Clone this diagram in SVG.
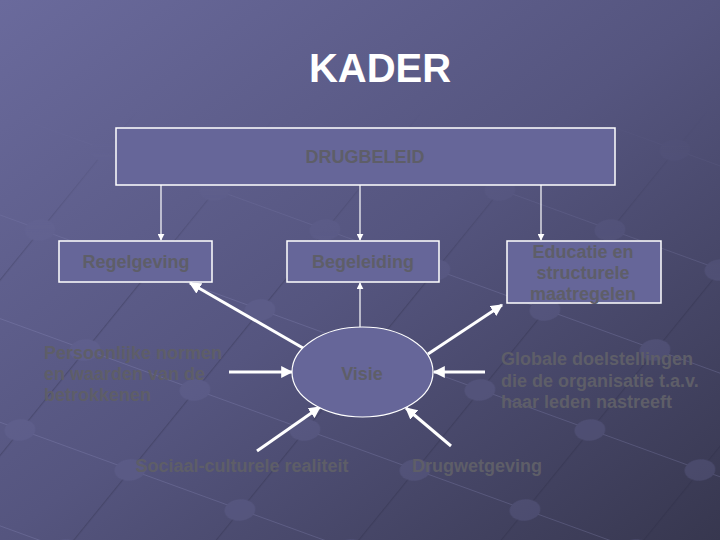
<svg xmlns="http://www.w3.org/2000/svg" width="720" height="540" viewBox="0 0 720 540">
<defs>
<linearGradient id="bg" x1="0" y1="0" x2="1" y2="1">
<stop offset="0" stop-color="#6a6a9c"/>
<stop offset="0.5" stop-color="#55557f"/>
<stop offset="1" stop-color="#37374f"/>
</linearGradient>
<pattern id="grid" width="100" height="100" patternUnits="userSpaceOnUse" patternTransform="matrix(0.65,-0.8,1.1,0.4,20,430)">
<path d="M0 0H100" stroke="#2c2c44" stroke-width="2" fill="none"/>
<path d="M0 0V100" stroke="#9a9acb" stroke-width="1.5" fill="none"/>
<circle cx="0" cy="0" r="12" fill="#6a6a9a"/>
<circle cx="100" cy="0" r="12" fill="#6a6a9a"/>
<circle cx="0" cy="100" r="12" fill="#6a6a9a"/>
<circle cx="100" cy="100" r="12" fill="#6a6a9a"/>
</pattern>
<linearGradient id="fade" x1="0" y1="0" x2="0" y2="1">
<stop offset="0.2" stop-color="#fff" stop-opacity="0"/>
<stop offset="0.55" stop-color="#fff" stop-opacity="1"/>
</linearGradient>
<mask id="m"><rect width="720" height="540" fill="url(#fade)"/></mask>
<marker id="ah" viewBox="0 0 10 10" refX="9" refY="5" markerWidth="7" markerHeight="7" orient="auto" markerUnits="userSpaceOnUse">
<path d="M0 0L10 5L0 10z" fill="#fff"/>
</marker>
<marker id="ah2" viewBox="0 0 10 10" refX="9" refY="5" markerWidth="4" markerHeight="4" orient="auto">
<path d="M0 0L10 5L0 10z" fill="#fff"/>
</marker>
</defs>
<style>
.box{fill:#666699;stroke:#fff;stroke-width:1.5}
.t{font-family:"Liberation Sans",Arial,sans-serif;font-weight:bold;font-size:18px;fill:#5e5e68}
.c{text-anchor:middle}
.thin{stroke:#fff;stroke-width:1.2;fill:none}
.thick{stroke:#fff;stroke-width:3;fill:none}
</style>
<rect width="720" height="540" fill="url(#bg)"/>
<rect width="720" height="540" fill="url(#grid)" opacity="0.3" mask="url(#m)"/>
<text x="380" y="82" font-family="Liberation Sans,Arial,sans-serif" font-weight="bold" font-size="40" fill="#fff" text-anchor="middle">KADER</text>

<g id="connectors">
<line class="thin" x1="161" y1="185" x2="161" y2="240" marker-end="url(#ah)"/>
<line class="thin" x1="360" y1="185" x2="360" y2="240" marker-end="url(#ah)"/>
<line class="thin" x1="541" y1="185" x2="541" y2="240" marker-end="url(#ah)"/>
<line class="thin" x1="360" y1="327" x2="360" y2="283" marker-end="url(#ah)"/>
<line class="thick" x1="303" y1="348" x2="190" y2="283" marker-end="url(#ah2)"/>
<line class="thick" x1="229" y1="372" x2="292" y2="372" marker-end="url(#ah2)"/>
<line class="thick" x1="257" y1="451" x2="320" y2="407" marker-end="url(#ah2)"/>
<line class="thick" x1="428" y1="354" x2="502" y2="305" marker-end="url(#ah2)"/>
<line class="thick" x1="485" y1="372" x2="434" y2="372" marker-end="url(#ah2)"/>
<line class="thick" x1="451" y1="446" x2="406" y2="408" marker-end="url(#ah2)"/>
</g>

<g id="drugbeleid">
<rect class="box" x="116" y="128" width="499" height="57"/>
<text class="t c" x="365" y="163">DRUGBELEID</text>
</g>
<g id="regelgeving">
<rect class="box" x="59" y="241" width="153" height="41"/>
<text class="t c" x="136" y="268">Regelgeving</text>
</g>
<g id="begeleiding">
<rect class="box" x="287" y="241" width="152" height="41"/>
<text class="t c" x="363" y="268">Begeleiding</text>
</g>
<g id="educatie">
<rect class="box" x="507" y="241" width="154" height="62"/>
<text class="t c" x="583" y="258">Educatie en</text>
<text class="t c" x="583" y="279">structurele</text>
<text class="t c" x="583" y="300">maatregelen</text>
</g>
<g id="visie">
<ellipse cx="362.5" cy="372" rx="70.5" ry="45" fill="#666699" stroke="#fff" stroke-width="1.2"/>
<text class="t c" x="362" y="380" font-size="19">Visie</text>
</g>
<g id="persoonlijke">
<text class="t" x="44" y="359">Persoonlijke normen</text>
<text class="t" x="44" y="380">en waarden van de</text>
<text class="t" x="44" y="401">betrokkenen</text>
</g>
<g id="globale">
<text class="t" x="501" y="365">Globale doelstellingen</text>
<text class="t" x="501" y="387">die de organisatie t.a.v.</text>
<text class="t" x="501" y="408">haar leden nastreeft</text>
</g>
<g id="sociaal">
<text class="t c" x="242" y="472">Sociaal-culturele realiteit</text>
</g>
<g id="drugwetgeving">
<text class="t c" x="477" y="472">Drugwetgeving</text>
</g>
</svg>
